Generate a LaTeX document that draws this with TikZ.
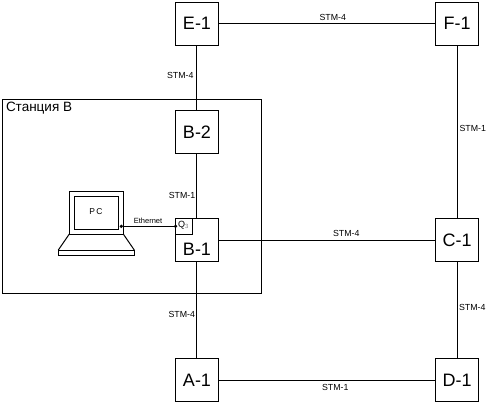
\documentclass[tikz,border=0pt]{standalone}
\usepackage{fontspec}
\setmainfont{Liberation Sans}
\tikzset{
  px/.style={x=1pt,y=-1pt,line width=1pt},
  station/.style={draw=black,fill=white,minimum width=43pt,minimum height=43pt,inner sep=0pt,outer sep=0pt,font=\fontsize{18}{20}\selectfont},
  link/.style={draw=black,line width=1pt},
  rate/.style={inner sep=0pt,font=\fontsize{8.8}{10}\selectfont},
  part/.style={draw=black,line width=1pt,inner sep=0pt,outer sep=0pt},
  contact/.style={circle,fill=black,minimum size=3.6pt,inner sep=0pt,outer sep=0pt}
}
\begin{document}
\begin{tikzpicture}[px]
\useasboundingbox (0,0) rectangle (494,403);
% station frame
\node[part,minimum width=258.8pt,minimum height=194pt] (frame) at (131.9,196.3) {};
\node[anchor=north west,inner sep=0pt,font=\fontsize{13.5}{15}\selectfont] (stname) at (5.5,102) {Станция В};
% network elements
\node[station] (E) at (197,23.7) {E-1};
\node[station] (F) at (457.2,23.7) {F-1};
\node[station] (B2) at (197,131.8) {B-2};
\node[station] (B1) at (197,240) {};
\node[inner sep=0pt,font=\fontsize{18}{20}\selectfont] (B1t) at (197,249.5) {B-1};
\node[station] (C) at (457.2,240) {C-1};
\node[station] (A) at (197,380) {A-1};
\node[station] (D) at (457.2,380) {D-1};
% Q3 port
\node[part,fill=white,minimum width=17.2pt,minimum height=16.3pt,anchor=north west] (Q) at (B1.north west) {};
\node[inner sep=0pt,font=\fontsize{9}{10}\selectfont] (Qt) at (183.6,225.2) {Q\textsubscript{\textcolor{gray}{3}}};
% links
\draw[link] (E.east) -- (F.west);
\draw[link] (E.south -| 196.5,0) -- (B2.north -| 196.5,0);
\draw[link] (B2.south -| 196.5,0) -- (B1.north -| 196.5,0);
\draw[link] (B1.south -| 196.5,0) -- (A.north -| 196.5,0);
\draw[link] (B1.east) -- (C.west);
\draw[link] (A.east) -- (D.west);
\draw[link] (F) -- (C);
\draw[link] (C) -- (D);
% laptop
\node[part,fill=white,minimum width=54pt,minimum height=42.3pt] (lid) at (96.3,212.9) {};
\node[part,fill=white,minimum width=44.4pt,minimum height=32.7pt] (screen) at (96.5,212.7) {};
\node[inner sep=0pt,font=\fontsize{8.5}{10}\selectfont] (pc) at (96,211.3) {P\,C};
\node[part,fill=white,minimum width=76pt,minimum height=5.5pt] (base) at (96.3,252.8) {};
\draw[part] (lid.south west) -- (base.north west);
\draw[part] (lid.south east) -- (base.north east);
% ethernet
\coordinate (lan) at (121.3,226.3);
\coordinate (qin) at (Q.west |- lan);
\node[contact] (d1) at (lan) {};
\node[contact] (d2) at (qin) {};
\draw[link] (d1) -- (d2);
% labels
\node[rate] (l1) at (332.7,17.3) {STM-4};
\node[rate] (l2) at (180.3,75) {STM-4};
\node[rate] (l3) at (182,195) {STM-1};
\node[rate] (l4) at (472.7,128.3) {STM-1};
\node[rate] (l5) at (346.3,233.3) {STM-4};
\node[rate] (l6) at (181.7,314.7) {STM-4};
\node[rate] (l7) at (472.3,307.7) {STM-4};
\node[rate] (l8) at (335.3,387) {STM-1};
\node[inner sep=0pt,font=\fontsize{7.5}{9}\selectfont] (l9) at (148,221) {Ethernet};
\end{tikzpicture}
\end{document}
